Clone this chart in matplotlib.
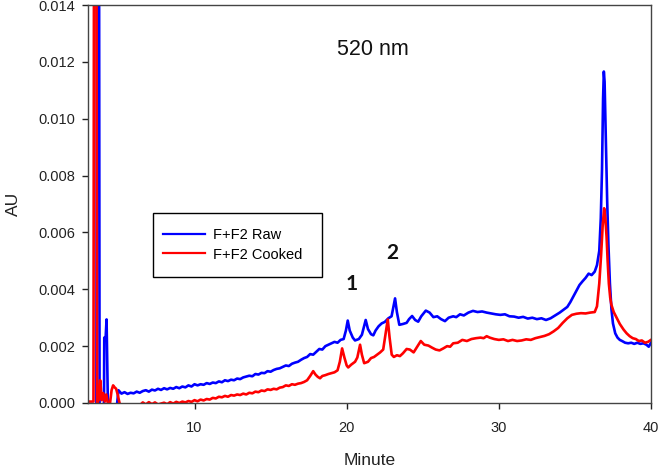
import numpy as np
import matplotlib
matplotlib.use("Agg")
import matplotlib.pyplot as plt
from matplotlib.patches import Rectangle

plt.rcParams['font.family'] = ['Liberation Sans', 'DejaVu Sans']

# Retention time (min) and absorbance (mAU)
raw_x = [3.0, 3.55, 3.60, 3.72, 3.76, 4.0, 4.05, 4.07, 4.15, 4.22, 4.30, 4.4, 4.9,
         5.0, 5.2, 5.4, 5.6, 5.8, 6.0, 6.2, 6.4, 6.6, 6.8, 7.0, 7.2, 7.4, 7.6, 7.8,
         8.0, 8.2, 8.4, 8.6, 8.8, 9.0, 9.2, 9.4, 9.6, 9.8, 10.0, 10.2, 10.4, 10.6,
         10.8, 11.0, 11.2, 11.4, 11.6, 11.8, 12.0, 12.2, 12.4, 12.6, 12.8, 13.0,
         13.2, 13.4, 13.6, 13.8, 14.0, 14.2, 14.4, 14.6, 14.8, 15.0, 15.2, 15.4,
         15.6, 15.8, 16.0, 16.2, 16.4, 16.6, 16.8, 17.0, 17.2, 17.4, 17.6, 17.8,
         18.0, 18.2, 18.4, 18.6, 18.8, 19.0, 19.2, 19.4, 19.6, 19.8, 19.95, 20.07,
         20.2, 20.4, 20.55, 20.8, 21.0, 21.25, 21.4, 21.6, 21.75, 21.9, 22.1, 22.3,
         22.5, 22.74, 22.95, 23.18, 23.3, 23.46, 23.7, 23.94, 24.1, 24.3, 24.5,
         24.7, 24.9, 25.2, 25.45, 25.7, 25.95, 26.2, 26.46, 26.7, 27.0, 27.2, 27.45,
         27.7, 28.0, 28.3, 28.6, 28.9, 29.2, 29.5, 29.8, 30.1, 30.4, 30.7, 31.0,
         31.3, 31.6, 31.9, 32.2, 32.5, 32.8, 33.1, 33.4, 33.7, 34.0, 34.3, 34.5,
         34.7, 34.9, 35.1, 35.3, 35.5, 35.7, 35.9, 36.1, 36.3, 36.45, 36.6, 36.7,
         36.78, 36.85, 36.9, 36.95, 37.0, 37.06, 37.12, 37.2, 37.3, 37.4, 37.5,
         37.65, 37.8, 37.95, 38.1, 38.3, 38.5, 38.7, 38.9, 39.1, 39.3, 39.5, 39.7,
         39.85, 40.0]
raw_y = [-0.2, -0.2, 20.0, 20.0, -0.2, -0.1, 0.0, 2.30, 2.20, 2.94, 0.2, -0.1, -0.1,
         0.45, 0.33, 0.38, 0.32, 0.36, 0.34, 0.40, 0.36, 0.42, 0.45, 0.40, 0.47, 0.44,
         0.50, 0.46, 0.52, 0.48, 0.53, 0.50, 0.56, 0.52, 0.58, 0.55, 0.62, 0.58, 0.66,
         0.62, 0.66, 0.64, 0.70, 0.67, 0.72, 0.70, 0.76, 0.73, 0.80, 0.77, 0.82, 0.80,
         0.86, 0.84, 0.90, 0.93, 0.96, 0.94, 1.02, 1.00, 1.06, 1.05, 1.12, 1.10, 1.16,
         1.20, 1.22, 1.27, 1.32, 1.30, 1.38, 1.42, 1.45, 1.52, 1.58, 1.62, 1.72, 1.70,
         1.80, 1.90, 1.88, 2.00, 2.05, 2.10, 2.15, 2.12, 2.22, 2.25, 2.55, 2.90, 2.55,
         2.30, 2.20, 2.25, 2.40, 2.92, 2.60, 2.42, 2.38, 2.55, 2.70, 2.80, 2.85, 2.98,
         3.05, 3.68, 3.20, 2.75, 2.78, 2.82, 2.95, 3.06, 2.92, 2.86, 3.05, 3.25, 3.18,
         3.02, 3.05, 2.95, 2.88, 3.00, 3.05, 3.02, 3.12, 3.08, 3.18, 3.24, 3.20, 3.22,
         3.18, 3.15, 3.12, 3.10, 3.12, 3.05, 3.04, 3.00, 3.03, 2.97, 3.00, 2.95, 2.98,
         2.92, 2.98, 3.08, 3.18, 3.30, 3.38, 3.55, 3.75, 3.95, 4.15, 4.28, 4.40, 4.55,
         4.50, 4.62, 4.85, 5.35, 6.5, 8.2, 10.7, 11.66, 11.3, 10.1, 8.6, 7.1, 5.6,
         4.2, 3.3, 2.8, 2.45, 2.30, 2.22, 2.18, 2.12, 2.10, 2.12, 2.08, 2.12, 2.08,
         2.10, 2.05, 1.98, 2.12]

cooked_x = [3.0, 3.36, 3.40, 3.55, 3.60, 3.70, 3.80, 3.85, 3.90, 4.0, 4.1, 4.2, 4.3,
            4.45, 4.55, 4.65, 4.75, 4.85, 4.95, 5.05, 5.15, 5.5, 6.0, 6.4, 6.6, 6.8,
            7.0, 7.2, 7.4, 7.6, 7.8, 8.0, 8.2, 8.4, 8.6, 8.8, 9.0, 9.2, 9.4, 9.6, 9.8,
            10.0, 10.2, 10.4, 10.6, 10.8, 11.0, 11.2, 11.4, 11.6, 11.8, 12.0, 12.2,
            12.4, 12.6, 12.8, 13.0, 13.2, 13.4, 13.6, 13.8, 14.0, 14.2, 14.4, 14.6,
            14.8, 15.0, 15.2, 15.4, 15.6, 15.8, 16.0, 16.2, 16.4, 16.6, 16.8, 17.0,
            17.2, 17.4, 17.6, 17.8, 17.95, 18.1, 18.25, 18.4, 18.6, 18.8, 19.0, 19.2,
            19.4, 19.55, 19.7, 19.85, 20.0, 20.1, 20.3, 20.55, 20.7, 20.88, 21.0,
            21.15, 21.4, 21.6, 21.8, 22.0, 22.2, 22.4, 22.55, 22.7, 22.82, 22.96,
            23.1, 23.3, 23.5, 23.7, 23.94, 24.15, 24.4, 24.6, 24.87, 25.1, 25.37,
            25.6, 25.85, 26.1, 26.35, 26.6, 26.8, 27.0, 27.3, 27.6, 27.9, 28.2, 28.5,
            28.8, 29.0, 29.2, 29.4, 29.7, 30.0, 30.3, 30.6, 30.9, 31.2, 31.5, 31.8,
            32.1, 32.4, 32.7, 33.0, 33.3, 33.6, 33.9, 34.2, 34.5, 34.8, 35.1, 35.4,
            35.7, 36.0, 36.3, 36.45, 36.6, 36.72, 36.82, 36.92, 37.0, 37.08, 37.15,
            37.23, 37.32, 37.4, 37.55, 37.74, 37.95, 38.2, 38.4, 38.6, 38.8, 39.0,
            39.2, 39.4, 39.6, 39.8, 40.0]
cooked_y = [0.05, 0.05, 20.0, 20.0, 0.0, 0.1, 0.8, 0.5, 0.1, 0.35, 0.05, 0.3, 0.0,
            0.0, 0.45, 0.62, 0.55, 0.5, 0.3, 0.05, -0.15, -0.15, -0.12, -0.08, 0.02,
            -0.05, 0.03, -0.04, 0.02, -0.05, -0.02, 0.01, -0.04, 0.03, -0.02, 0.04,
            0.0, 0.05, 0.02, 0.07, 0.04, 0.10, 0.06, 0.12, 0.09, 0.14, 0.12, 0.18,
            0.16, 0.22, 0.20, 0.25, 0.22, 0.28, 0.26, 0.30, 0.28, 0.33, 0.30, 0.36,
            0.34, 0.40, 0.38, 0.44, 0.42, 0.48, 0.46, 0.50, 0.48, 0.54, 0.56, 0.62,
            0.60, 0.66, 0.64, 0.68, 0.70, 0.74, 0.80, 0.95, 1.12, 1.00, 0.92, 0.87,
            0.95, 0.98, 1.02, 1.05, 1.08, 1.15, 1.45, 1.92, 1.60, 1.32, 1.25, 1.35,
            1.45, 1.60, 2.05, 1.70, 1.40, 1.45, 1.58, 1.62, 1.70, 1.78, 1.88, 2.40,
            2.94, 2.30, 1.70, 1.62, 1.68, 1.65, 1.75, 1.90, 1.88, 1.78, 1.95, 2.18,
            2.05, 2.02, 1.95, 1.88, 1.85, 1.92, 2.00, 1.98, 2.10, 2.12, 2.22, 2.18,
            2.25, 2.28, 2.30, 2.28, 2.35, 2.30, 2.25, 2.22, 2.24, 2.18, 2.22, 2.18,
            2.20, 2.24, 2.22, 2.28, 2.32, 2.36, 2.42, 2.52, 2.64, 2.82, 2.98, 3.10,
            3.14, 3.16, 3.15, 3.18, 3.20, 3.40, 4.20, 5.20, 6.20, 6.85, 6.50, 5.85,
            5.00, 4.20, 3.70, 3.45, 3.20, 3.00, 2.78, 2.58, 2.45, 2.35, 2.28, 2.25,
            2.18, 2.20, 2.12, 2.15, 2.22]

series_labels = ["F+F2 Raw", "F+F2 Cooked"]
y_ticks = [0.000, 0.002, 0.004, 0.006, 0.008, 0.010, 0.012, 0.014]
x_ticks = [10, 20, 30, 40]

fig = plt.figure(figsize=(6.59, 4.72), dpi=100)
ax = fig.add_axes([88/659, 69/472, (651-88)/659, (403-5)/472])

ax.plot(raw_x, np.array(raw_y) * 1e-3, color='#0000FF', lw=1.9, label=series_labels[0])
ax.plot(cooked_x, np.array(cooked_y) * 1e-3, color='#FF0000', lw=1.9, label=series_labels[1])

ax.set_xlim(3, 40)
ax.set_ylim(0, 0.014)
ax.set_yticks(y_ticks)
ax.set_yticklabels([f"{v:.3f}" for v in y_ticks])
ax.set_xticks(x_ticks)

for s in ax.spines.values():
    s.set_color('#444444')
    s.set_linewidth(1.0)
ax.tick_params(axis='both', direction='out', colors='#222222', labelsize=10.5,
               length=4, width=1.0)
ax.tick_params(axis='y', pad=5)
ax.tick_params(axis='x', pad=9)
for t in ax.get_xticklines() + ax.get_yticklines():
    t.set_color('#444444')

ax.set_xlabel("Minute", fontsize=12.5, color='#222222')
ax.set_ylabel("AU", fontsize=12.5, color='#222222')
ax.xaxis.set_label_coords(0.5, -0.1256)
ax.yaxis.set_label_coords(-0.132, 0.5)
ax.yaxis.label.set_va('center')

ax.text(21.73, 0.01245, "520 nm", fontsize=15.5, ha='center', va='center', color='#111111')
ax.text(20.35, 0.00419, "1", fontsize=15, fontweight='bold', family='Lato',
        ha='center', va='center', color='#111111')
ax.text(22.99, 0.00528, "2", fontsize=15, fontweight='bold', family='Lato',
        ha='center', va='center', color='#111111')

ax.add_patch(Rectangle(((153-88)/563, (403-277)/398), (322-153)/563, (277-213)/398,
                       transform=ax.transAxes, fill=False, ec='black', lw=1.0, zorder=5))
leg = ax.legend(loc='center left', bbox_to_anchor=((163-88)/563, (403-245)/398),
                frameon=False, fontsize=10.5, handlelength=2.9, handletextpad=0.55,
                borderpad=0, borderaxespad=0, labelspacing=0.35)
for h in leg.get_lines():
    h.set_linewidth(1.6)

fig.savefig("out.png", dpi=100)
